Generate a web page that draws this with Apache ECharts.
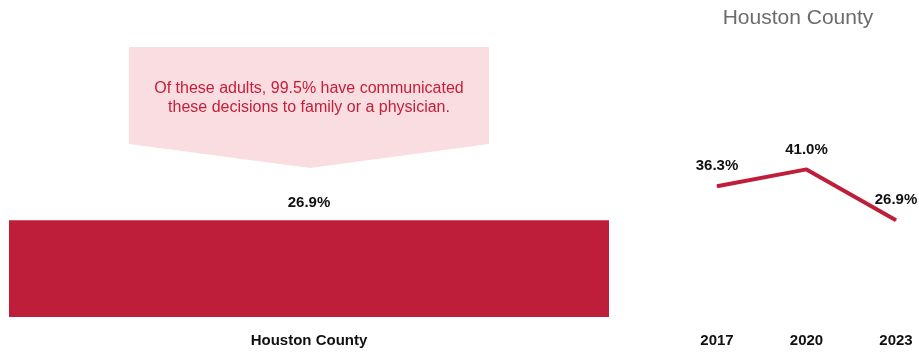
<!DOCTYPE html>
<html><head><meta charset="utf-8">
<script src="https://cdn.jsdelivr.net/npm/echarts@6/dist/echarts.min.js"></script>
<style>html,body{margin:0;padding:0;background:#fff}#c{width:919px;height:354px}</style>
</head><body><div id="c"></div>
<script>
const barCategories = ['Houston County'];
const barValues = [26.9];
const years = ['2017', '2020', '2023'];
const trendValues = [36.3, 41.0, 26.9];
const titleText = 'Houston County';
const calloutText = 'Of these adults, 99.5% have communicated\nthese decisions to family or a physician.';

const RED = '#be1e3a';
const NARROW = '"Liberation Sans Narrow", "Arial Narrow", "Liberation Sans", Arial, sans-serif';
const chart = echarts.init(document.getElementById('c'));
chart.setOption({
  animation: false,
  backgroundColor: '#fff',
  title: {
    text: titleText, left: 793, top: 3, textAlign: 'center',
    textStyle: { color: '#6b6b6b', fontSize: 21, fontWeight: 'normal', fontFamily: '"Liberation Sans", Arial, sans-serif' }
  },
  grid: [
    { left: 9, right: 310, top: 101, bottom: 37 },
    { left: 717, right: 23, top: 101, bottom: 37 }
  ],
  xAxis: [
    { gridIndex: 0, type: 'category', data: barCategories,
      axisLine: { show: false }, axisTick: { show: false },
      axisLabel: { margin: 16, color: '#111', fontSize: 15, fontWeight: 'bold', fontFamily: NARROW } },
    { gridIndex: 1, type: 'category', data: years, boundaryGap: false,
      axisLine: { show: false }, axisTick: { show: false },
      axisLabel: { margin: 16, color: '#111', fontSize: 15, fontWeight: 'bold', fontFamily: NARROW } }
  ],
  yAxis: [
    { gridIndex: 0, type: 'value', min: 0, max: 60, show: false, splitLine: { show: false } },
    { gridIndex: 1, type: 'value', min: 0, max: 60, show: false, splitLine: { show: false } }
  ],
  series: [
    { type: 'bar', xAxisIndex: 0, yAxisIndex: 0, data: barValues, barWidth: '100%',
      itemStyle: { color: RED },
      label: { show: true, position: 'top', distance: 10, formatter: p => p.value.toFixed(1) + '%',
        color: '#111', fontSize: 15, fontWeight: 'bold', fontFamily: NARROW } },
    { type: 'line', xAxisIndex: 1, yAxisIndex: 1, data: trendValues,
      symbol: 'circle', symbolSize: 1, showSymbol: true,
      itemStyle: { color: RED },
      lineStyle: { color: RED, width: 4 },
      label: { show: true, position: 'top', distance: 12, formatter: p => p.value.toFixed(1) + '%',
        color: '#111', fontSize: 15, fontWeight: 'bold', fontFamily: NARROW } }
  ],
  graphic: [
    { type: 'polygon', z: 1,
      shape: { points: [[129, 47], [489, 47], [489, 144], [310, 168], [129, 144]] },
      style: { fill: '#f9dde0' } },
    { type: 'text', z: 2, x: 309, y: 79,
      style: { text: calloutText, textAlign: 'center', fill: '#c41e3a', fontSize: 16,
        lineHeight: 19, fontFamily: '"Liberation Sans", Arial, sans-serif' } }
  ]
});
</script></body></html>
